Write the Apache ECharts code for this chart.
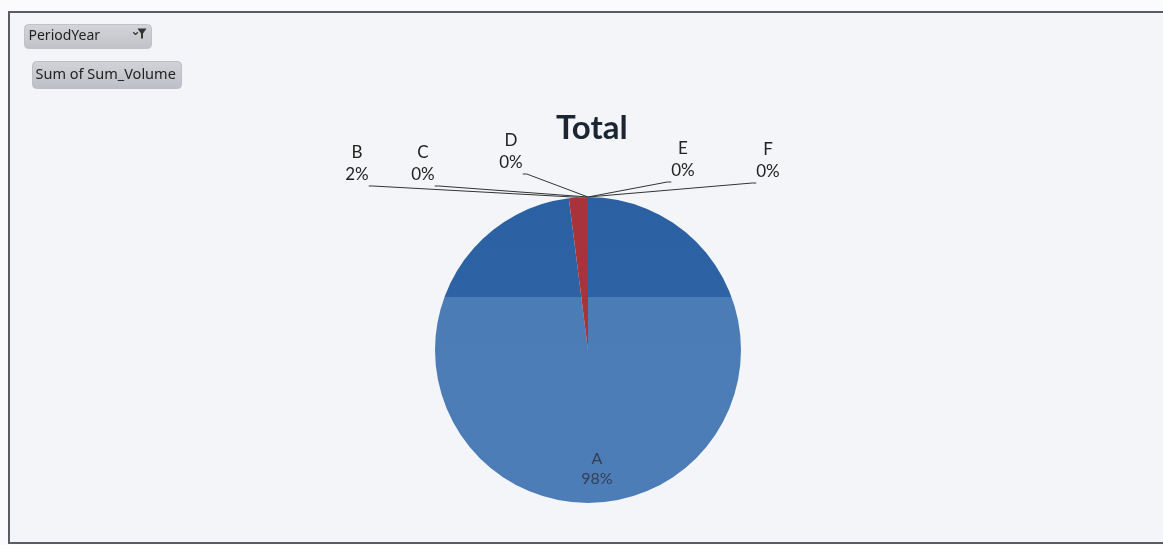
<!DOCTYPE html>
<html>
<head>
<meta charset="utf-8">
<script src="https://cdn.jsdelivr.net/npm/echarts@6/dist/echarts.min.js"></script>
<style>
  html, body { margin: 0; padding: 0; background: #fbfbfd; }
  #main { width: 1163px; height: 545px; }
</style>
</head>
<body>
<div id="main"></div>
<script>
// pie data
const categories = ['A', 'B', 'C', 'D', 'E', 'F']
const volumes = [98, 2, 0, 0, 0, 0]
const sliceColors = ['#2c62a3', '#a8333a', '#6d8fc4', '#8aa9d6', '#4a7bb5', '#9db6dd']

// where Excel put the outside labels (centre of the text block)
const labelSpots = {
  1: [357, 164],
  2: [423, 164],
  3: [511, 152],
  4: [683, 160],
  5: [768, 161]
}
const lineH = 22

const chart = echarts.init(document.getElementById('main'))

let data = []
categories.forEach((name, i) => {
  let item = {
    name: name,
    value: volumes[i],
    itemStyle: { color: sliceColors[i] }
  }
  if (i == 0) {
    // top band of the scan is darker than the rest
    item.itemStyle.color = {
      type: 'linear', x: 0, y: 0, x2: 0, y2: 1,
      colorStops: [
        { offset: 0, color: '#2b61a2' },
        { offset: 0.327, color: '#2d63a4' },
        { offset: 0.327, color: '#4b7cb6' },
        { offset: 1, color: '#4c7db6' }
      ]
    }
    // blank lines push the text down towards the rim
    item.label = {
      position: 'inside',
      formatter: '\n\n\n\n{b}\n{d}%',
      color: 'rgba(40,40,50,0.72)',
      fontSize: 16,
      lineHeight: 20,
      padding: [0, 0, 0, 8]
    }
  }
  data.push(item)
})

let option = {
  backgroundColor: '#fbfbfd',
  title: {
    text: 'Total',
    left: 551,
    top: 107,
    textStyle: {
      fontFamily: 'Lato',
      fontWeight: 'bold',
      fontSize: 33,
      color: '#1c2633'
    }
  },
  graphic: [
    {
      type: 'rect',
      z: -10,
      shape: { x: 9, y: 12, width: 1170, height: 531 },
      style: { fill: '#f4f5f8', stroke: '#5a5c66', lineWidth: 2 }
    },
    {
      type: 'group',
      left: 24,
      top: 24,
      children: [
        {
          type: 'rect',
          shape: { x: 0, y: 0, width: 127, height: 24, r: 4 },
          style: {
            fill: {
              type: 'linear', x: 0, y: 0, x2: 0, y2: 1,
              colorStops: [{ offset: 0, color: '#d4d5da' }, { offset: 1, color: '#c0c2c8' }]
            },
            stroke: '#c0c2c8'
          }
        },
        {
          type: 'text',
          x: 4,
          y: 5,
          style: { text: 'PeriodYear', font: '14px "Noto Sans"', fill: '#222' }
        },
        {
          type: 'text',
          x: 106,
          y: 1,
          style: { text: '⌄', font: 'bold 12px "DejaVu Sans"', fill: '#333' }
        },
        {
          type: 'polygon',
          shape: { points: [[113, 4], [122, 4], [118.5, 9], [118.5, 14], [116.5, 14], [116.5, 9]] },
          style: { fill: '#333' }
        }
      ]
    },
    {
      type: 'group',
      left: 32,
      top: 61,
      children: [
        {
          type: 'rect',
          shape: { x: 0, y: 0, width: 149, height: 27, r: 4 },
          style: {
            fill: {
              type: 'linear', x: 0, y: 0, x2: 0, y2: 1,
              colorStops: [{ offset: 0, color: '#d2d3d8' }, { offset: 1, color: '#bdbfc6' }]
            },
            stroke: '#bdbfc6'
          }
        },
        {
          type: 'text',
          x: 3,
          y: 6,
          style: { text: 'Sum of Sum_Volume', font: '14.5px "Noto Sans"', fill: '#222' }
        }
      ]
    }
  ],
  series: [{
    type: 'pie',
    center: [588, 350],
    radius: 153,
    startAngle: 90,
    clockwise: true,
    avoidLabelOverlap: false,
    percentPrecision: 0,
    stillShowZeroSum: true,
    data: data,
    label: {
      show: true,
      // two empty lines below so the leader meets the label at the % line
      formatter: '{b}\n{d}%\n\n',
      fontFamily: 'Lato',
      fontSize: 17,
      lineHeight: lineH,
      color: '#222',
      align: 'center'
    },
    labelLine: {
      show: true,
      length: 10,
      length2: 4,
      lineStyle: { color: '#333', width: 1 }
    },
    labelLayout: function(params) {
      let spot = labelSpots[params.dataIndex]
      if (!spot) {
        return {}
      }
      return {
        x: spot[0],
        y: spot[1] + lineH,
        align: 'center',
        verticalAlign: 'middle'
      }
    },
    emphasis: { disabled: true }
  }]
}

chart.setOption(option)
</script>
</body>
</html>
